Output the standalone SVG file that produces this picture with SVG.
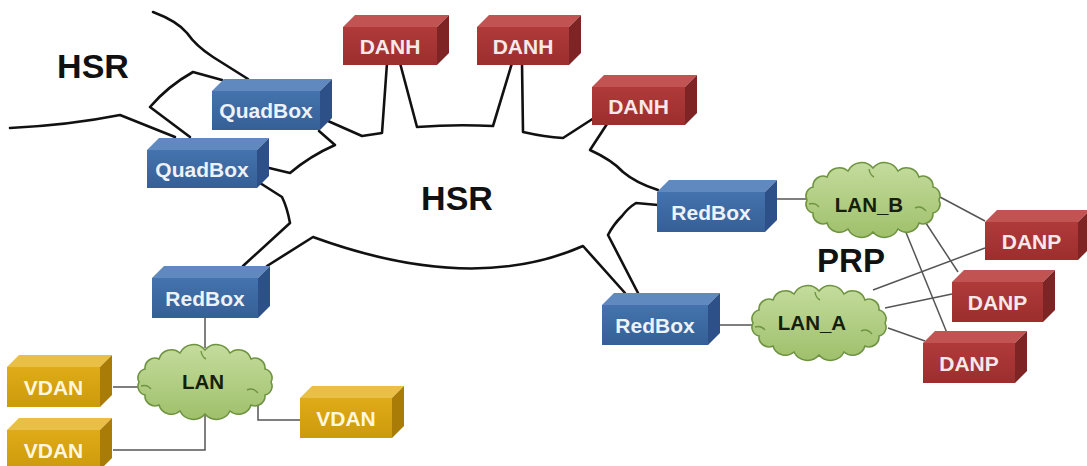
<svg xmlns="http://www.w3.org/2000/svg" xmlns:xlink="http://www.w3.org/1999/xlink" width="1087" height="466" viewBox="0 0 1087 466">
  <defs>
    <linearGradient id="gBlueFront" x1="0" y1="0" x2="0" y2="1">
      <stop offset="0" stop-color="#4473ad"/>
      <stop offset="1" stop-color="#355f96"/>
    </linearGradient>
    <linearGradient id="gRedFront" x1="0" y1="0" x2="0" y2="1">
      <stop offset="0" stop-color="#b03a3a"/>
      <stop offset="1" stop-color="#9c2e2e"/>
    </linearGradient>
    <linearGradient id="gGoldFront" x1="0" y1="0" x2="0" y2="1">
      <stop offset="0" stop-color="#dfab18"/>
      <stop offset="1" stop-color="#cc9a0c"/>
    </linearGradient>
    <linearGradient id="gCloud" x1="0" y1="0" x2="0" y2="1">
      <stop offset="0" stop-color="#c4dc9d"/>
      <stop offset="1" stop-color="#9fc06b"/>
    </linearGradient>
    <!-- scalloped cloud, centred on the origin, about 144 x 78 -->
    <g id="cloud">
      <path fill="url(#gCloud)" stroke="#6e9341" stroke-width="1.6" d="M -66,0 A 9 9 0 0 1 -60,-13 A 10 10 0 0 1 -46,-23 A 13 13 0 0 1 -25,-29 A 15 15 0 0 1 0,-32 A 15 15 0 0 1 25,-29 A 13 13 0 0 1 46,-23 A 10 10 0 0 1 60,-13 A 9 9 0 0 1 66,0 A 9 9 0 0 1 60,13 A 10 10 0 0 1 46,23 A 13 13 0 0 1 25,29 A 15 15 0 0 1 0,32 A 15 15 0 0 1 -25,29 A 13 13 0 0 1 -46,23 A 10 10 0 0 1 -60,13 A 9 9 0 0 1 -66,0 Z"/>
      <path fill="none" stroke="#6e9341" stroke-width="1.4" d="M -64,4 Q -58,2 -54,7 M 42,8 Q 48,5 53,11 M -4,-31 Q -3,-25 1,-23"/>
    </g>
  </defs>
  <style>
    .ring { fill: none; stroke: #111; stroke-width: 2.6; stroke-linejoin: round; stroke-linecap: round; }
    .link { fill: none; stroke: #555; stroke-width: 1.5; }
    .blue .front { fill: url(#gBlueFront); }
    .blue .top { fill: #5f89bf; }
    .blue .side { fill: #2c5087; }
    .red .front { fill: url(#gRedFront); }
    .red .top { fill: #c25353; }
    .red .side { fill: #7f2424; }
    .gold .front { fill: url(#gGoldFront); }
    .gold .top { fill: #e9bf45; }
    .gold .side { fill: #a87c06; }
    .box text { font-family: "Liberation Sans", Arial, sans-serif; font-weight: bold; font-size: 21px; text-anchor: middle; }
    .blue text { fill: #edf2f9; }
    .red text { fill: #f6e8e8; }
    .gold text { fill: #fff6de; }
    .cloudlabel { font-family: "Liberation Sans", Arial, sans-serif; font-weight: bold; font-size: 20.5px; text-anchor: middle; fill: #15200c; }
    .title { font-family: "Liberation Sans", Arial, sans-serif; font-weight: bold; font-size: 34px; text-anchor: middle; fill: #111; }
  </style>

  <rect x="0" y="0" width="1087" height="466" fill="#ffffff"/>

  <!-- connectors -->
  <g id="connectors">
    <!-- HSR ring -->
    <path class="ring" d="M 328,121 L 362,136 L 382,133 L 387,63"/>
    <path class="ring" d="M 400,63 L 417,127 Q 455,124 493,126 L 512,63"/>
    <path class="ring" d="M 522,63 L 523,132 Q 545,137 563,138 L 594,118"/>
    <path class="ring" d="M 607,124 L 590,150 Q 612,160 623,172 Q 636,183 658,190"/>
    <path class="ring" d="M 658,205 L 636,203 Q 628,208 622,216 Q 613,225 608,235 L 638,293"/>
    <path class="ring" d="M 625,293 L 583,246 Q 472,295 313,237 L 267,266"/>
    <path class="ring" d="M 243,266 L 290,223 Q 287,207 282,197 L 260,183"/>
    <path class="ring" d="M 265,167 L 290,173 Q 310,156 335,145 L 319,131"/>
    <!-- outer HSR ring -->
    <path class="ring" d="M 153,12 Q 177,21 187,33 Q 196,46 213,57 L 248,79"/>
    <path class="ring" d="M 222,80 L 193,72 Q 168,86 150,107 L 190,137"/>
    <path class="ring" d="M 10,128 Q 70,125 120,115 L 175,137"/>
    <!-- PRP links -->
    <path class="link" d="M 777,199 L 806,199"/>
    <path class="link" d="M 720,325 L 752,325"/>
    <path class="link" d="M 940,197 L 985,221"/>
    <path class="link" d="M 920,214 L 958,272"/>
    <path class="link" d="M 905,230 L 947,333"/>
    <path class="link" d="M 873,290 L 985,248"/>
    <path class="link" d="M 885,308 L 952,294"/>
    <path class="link" d="M 888,328 L 925,341"/>
    <!-- LAN links -->
    <path class="link" d="M 205,318 L 205,348"/>
    <path class="link" d="M 113,387 L 140,387"/>
    <path class="link" d="M 205,416 L 205,450 L 113,450"/>
    <path class="link" d="M 258,394 L 258,420 L 300,420"/>
  </g>

  <!-- labels of the two rings -->
  <text class="title" x="93" y="78">HSR</text>
  <text class="title" x="457" y="210">HSR</text>
  <text class="title" x="851" y="272" style="font-size:33px">PRP</text>

  <!-- clouds -->
  <g id="lan-b">
    <use xlink:href="#cloud" transform="translate(873,200)"/>
    <text class="cloudlabel" x="869" y="212">LAN_B</text>
  </g>
  <g id="lan-a">
    <use xlink:href="#cloud" transform="translate(819,323)"/>
    <text class="cloudlabel" x="812" y="330">LAN_A</text>
  </g>
  <g id="lan">
    <use xlink:href="#cloud" transform="translate(205,382)"/>
    <text class="cloudlabel" x="203" y="389">LAN</text>
  </g>

  <!-- devices -->
  <g id="quadbox-1" class="box blue">
    <polygon class="top" points="212,91 224,79 332,79 320,91"/>
    <polygon class="side" points="320,91 332,79 332,118 320,130"/>
    <rect class="front" x="212" y="91" width="108" height="39"/>
    <text x="266" y="118">QuadBox</text>
  </g>
  <g id="quadbox-2" class="box blue">
    <polygon class="top" points="147,150 159,138 269,138 257,150"/>
    <polygon class="side" points="257,150 269,138 269,176 257,188"/>
    <rect class="front" x="147" y="150" width="110" height="38"/>
    <text x="202" y="176.5">QuadBox</text>
  </g>
  <g id="danh-1" class="box red">
    <polygon class="top" points="343,27 355,15 449,15 437,27"/>
    <polygon class="side" points="437,27 449,15 449,53 437,65"/>
    <rect class="front" x="343" y="27" width="94" height="38"/>
    <text x="390" y="53.5">DANH</text>
  </g>
  <g id="danh-2" class="box red">
    <polygon class="top" points="477,27 489,15 581,15 569,27"/>
    <polygon class="side" points="569,27 581,15 581,53 569,65"/>
    <rect class="front" x="477" y="27" width="92" height="38"/>
    <text x="523" y="53.5">DANH</text>
  </g>
  <g id="danh-3" class="box red">
    <polygon class="top" points="592,87 604,75 697,75 685,87"/>
    <polygon class="side" points="685,87 697,75 697,113 685,125"/>
    <rect class="front" x="592" y="87" width="93" height="38"/>
    <text x="638.5" y="113.5">DANH</text>
  </g>
  <g id="redbox-b" class="box blue">
    <polygon class="top" points="657,192 669,180 777,180 765,192"/>
    <polygon class="side" points="765,192 777,180 777,220 765,232"/>
    <rect class="front" x="657" y="192" width="108" height="40"/>
    <text x="711" y="219.5">RedBox</text>
  </g>
  <g id="redbox-a" class="box blue">
    <polygon class="top" points="602,305 614,293 720,293 708,305"/>
    <polygon class="side" points="708,305 720,293 720,333 708,345"/>
    <rect class="front" x="602" y="305" width="106" height="40"/>
    <text x="655" y="332.5">RedBox</text>
  </g>
  <g id="redbox-lan" class="box blue">
    <polygon class="top" points="152,278 164,266 270,266 258,278"/>
    <polygon class="side" points="258,278 270,266 270,306 258,318"/>
    <rect class="front" x="152" y="278" width="106" height="40"/>
    <text x="205" y="305.5">RedBox</text>
  </g>
  <g id="danp-1" class="box red">
    <polygon class="top" points="985,222 997,210 1090,210 1078,222"/>
    <polygon class="side" points="1078,222 1090,210 1090,248 1078,260"/>
    <rect class="front" x="985" y="222" width="93" height="38"/>
    <text x="1031.5" y="248.5">DANP</text>
  </g>
  <g id="danp-2" class="box red">
    <polygon class="top" points="952,282 964,270 1055,270 1043,282"/>
    <polygon class="side" points="1043,282 1055,270 1055,310 1043,322"/>
    <rect class="front" x="952" y="282" width="91" height="40"/>
    <text x="997.5" y="309.5">DANP</text>
  </g>
  <g id="danp-3" class="box red">
    <polygon class="top" points="923,343 935,331 1027,331 1015,343"/>
    <polygon class="side" points="1015,343 1027,331 1027,371 1015,383"/>
    <rect class="front" x="923" y="343" width="92" height="40"/>
    <text x="969" y="370.5">DANP</text>
  </g>
  <g id="vdan-1" class="box gold">
    <polygon class="top" points="7,367 19,355 112,355 100,367"/>
    <polygon class="side" points="100,367 112,355 112,395 100,407"/>
    <rect class="front" x="7" y="367" width="93" height="40"/>
    <text x="53.5" y="394.5">VDAN</text>
  </g>
  <g id="vdan-2" class="box gold">
    <polygon class="top" points="7,430 19,418 112,418 100,430"/>
    <polygon class="side" points="100,430 112,418 112,458 100,470"/>
    <rect class="front" x="7" y="430" width="93" height="40"/>
    <text x="53.5" y="457.5">VDAN</text>
  </g>
  <g id="vdan-3" class="box gold">
    <polygon class="top" points="300,398 312,386 404,386 392,398"/>
    <polygon class="side" points="392,398 404,386 404,426 392,438"/>
    <rect class="front" x="300" y="398" width="92" height="40"/>
    <text x="346" y="425.5">VDAN</text>
  </g>
</svg>
